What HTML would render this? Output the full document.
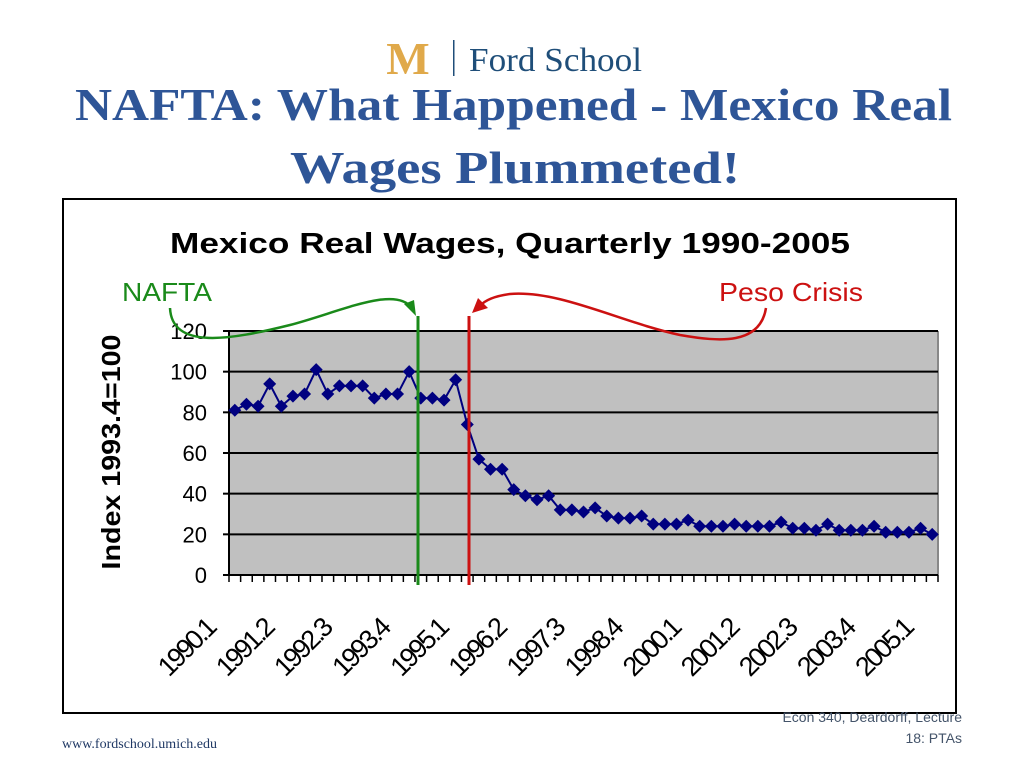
<!DOCTYPE html>
<html><head><meta charset="utf-8"><style>
html,body{margin:0;padding:0;background:#fff;}
body{width:1024px;height:768px;position:relative;overflow:hidden;font-family:"Liberation Sans",sans-serif;}
</style></head><body>
<svg width="1024" height="768" viewBox="0 0 1024 768" xmlns="http://www.w3.org/2000/svg">
<g>
  <text x="408" y="74" font-family="Liberation Serif,serif" font-weight="bold" font-size="46" fill="#e0a94a" text-anchor="middle">M</text>
  <rect x="453" y="40" width="1.5" height="36" fill="#1f4e79"/>
  <text x="469" y="71" font-family="Liberation Serif,serif" font-size="34" fill="#1f4e79" textLength="173" lengthAdjust="spacingAndGlyphs">Ford School</text>
</g>
<text x="75" y="120" font-family="Liberation Serif,serif" font-weight="bold" font-size="46" fill="#2e5597" textLength="877" lengthAdjust="spacingAndGlyphs">NAFTA: What Happened - Mexico Real</text>
<text x="290" y="183" font-family="Liberation Serif,serif" font-weight="bold" font-size="46" fill="#2e5597" textLength="450" lengthAdjust="spacingAndGlyphs">Wages Plummeted!</text>
<rect x="63" y="199" width="893" height="514" fill="none" stroke="#000" stroke-width="2"/>
<text x="170" y="253" font-weight="bold" font-size="29" textLength="680" lengthAdjust="spacingAndGlyphs">Mexico Real Wages, Quarterly 1990-2005</text>
<rect x="229" y="331" width="709" height="244" fill="#c0c0c0"/>
<line x1="938" y1="331" x2="938" y2="575" stroke="#888" stroke-width="2"/>
<line x1="229" y1="331" x2="938" y2="331" stroke="#888" stroke-width="2"/>
<g id="grid"></g>
<g id="chart"></g>
<text transform="translate(120,452) rotate(-90)" font-weight="bold" font-size="26" text-anchor="middle" textLength="235" lengthAdjust="spacingAndGlyphs">Index 1993.4=100</text>
<line x1="418" y1="316" x2="418" y2="585" stroke="#1a8a1a" stroke-width="3"/>
<line x1="469" y1="316" x2="469" y2="585" stroke="#cc1111" stroke-width="3"/>
<text x="122" y="301" font-size="26" fill="#1a8a1a" textLength="90" lengthAdjust="spacingAndGlyphs">NAFTA</text>
<path d="M170,308 C172,350 230,340 290,325 C340,312 395,285 412,308" fill="none" stroke="#1a8a1a" stroke-width="2.5"/>
<polygon points="416,316 404,304 414,300" fill="#1a8a1a"/>
<text x="719" y="301" font-size="26" fill="#cc1111" textLength="144" lengthAdjust="spacingAndGlyphs">Peso Crisis</text>
<path d="M766,308 C760,345 720,342 680,335 C620,322 560,290 510,294 C495,296 485,300 480,306" fill="none" stroke="#cc1111" stroke-width="2.5"/>
<polygon points="472,313 478,298 488,308" fill="#cc1111"/>
<text x="62" y="748" font-family="Liberation Serif,serif" font-size="14" fill="#1f3864">www.fordschool.umich.edu</text>
<text x="962" y="722" font-size="14" fill="#44546a" text-anchor="end">Econ 340, Deardorff, Lecture</text>
<text x="962" y="743" font-size="14" fill="#44546a" text-anchor="end">18: PTAs</text>
</svg>
<script>
const quarters=[];for(let y=1990;y<=2005;y++)for(let q=1;q<=4;q++)quarters.push(y+'.'+q);
const categories=quarters.slice(0,61);
const wages=[81,84,83,94,83,88,89,101,89,93,93,93,87,89,89,100,87,87,86,96,74,57,52,52,42,39,37,39,32,32,31,33,29,28,28,29,25,25,25,27,24,24,24,25,24,24,24,26,23,23,22,25,22,22,22,24,21,21,21,23,20];
const yTicks=[0,20,40,60,80,100,120];
const X0=229,X1=938,Y0=575,Y1=331,YMAX=120;
const bw=(X1-X0)/categories.length;
function xs(i){return X0+bw*(i+0.5);}
function ys(v){return Y0-(v/YMAX)*(Y0-Y1);}
const NS='http://www.w3.org/2000/svg';
const g=document.getElementById('chart'),grid=document.getElementById('grid');
function mk(tag,attrs,parent){const e=document.createElementNS(NS,tag);for(const k in attrs)e.setAttribute(k,attrs[k]);parent.appendChild(e);return e;}
yTicks.forEach(t=>{
  const y=ys(t);
  if(t>0){const l=mk('line',{x1:X0,x2:X1,y1:y,y2:y,stroke:'#000','stroke-width':2},grid);
  
  }
  mk('line',{x1:X0-6,x2:X0,y1:y,y2:y,stroke:'#000','stroke-width':2},g);
  const tx=mk('text',{x:207,y:y+8,'font-size':22,'text-anchor':'end'},g);tx.textContent=t;
  
  
});
mk('line',{x1:X0,x2:X0,y1:Y1,y2:Y0,stroke:'#000','stroke-width':2},g);
mk('line',{x1:X0,x2:X1,y1:Y0,y2:Y0,stroke:'#000','stroke-width':2},g);
for(let i=0;i<=categories.length;i++){const x=X0+bw*i;mk('line',{x1:x,x2:x,y1:Y0,y2:Y0+7,stroke:'#000','stroke-width':1.5},g);}
categories.forEach((c,i)=>{if(i%5===0){
  const x=xs(i)-18,y=630;
  const t=mk('text',{x:0,y:0,'font-size':27,'letter-spacing':'-2.5','text-anchor':'end',transform:`translate(${x} ${y}) rotate(-45)`},g);t.textContent=c;
  
  
}});
const line=mk('polyline',{points:wages.map((v,i)=>xs(i)+','+ys(v)).join(' '),fill:'none',stroke:'#000080','stroke-width':2},g);


wages.forEach((v,i)=>{const x=xs(i),y=ys(v);
  const p=mk('polygon',{points:`${x},${y-6.5} ${x+6.5},${y} ${x},${y+6.5} ${x-6.5},${y}`,fill:'#000080'},g);
  
  
});
</script>
</body></html>
